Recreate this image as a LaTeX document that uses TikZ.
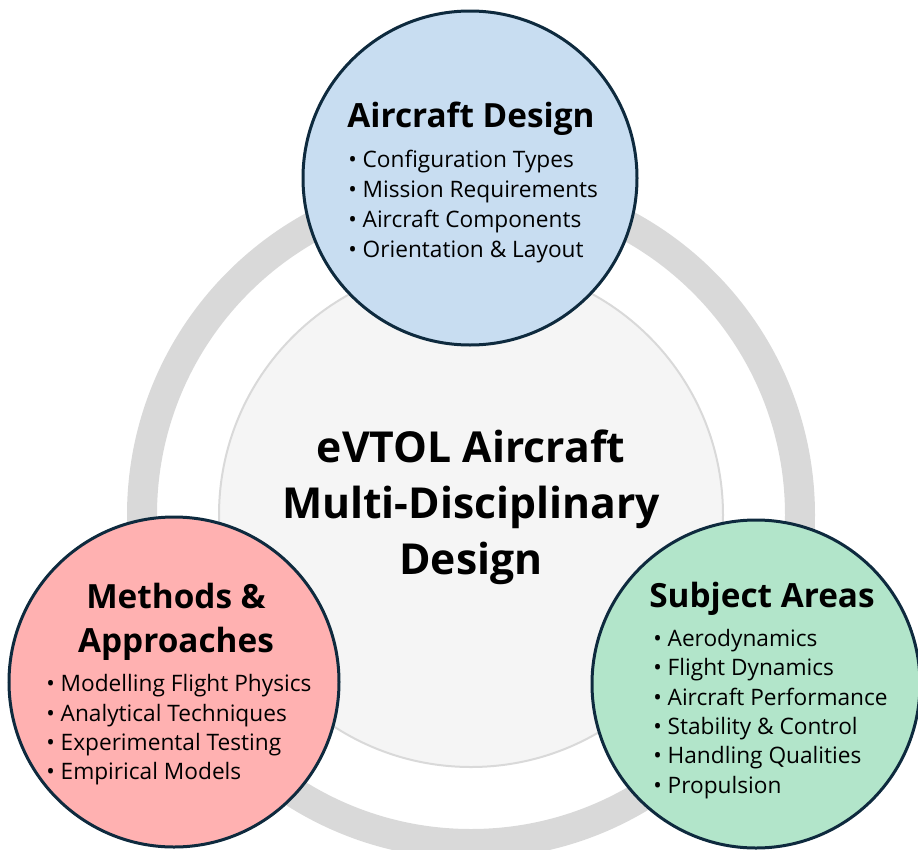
\documentclass[tikz,border=0pt]{standalone}
\usepackage{fontspec}
\setmainfont{Open Sans}
\definecolor{ringgray}{HTML}{D9D9D9}
\definecolor{hubfill}{HTML}{F5F5F5}
\definecolor{hubline}{HTML}{D9D9D9}
\definecolor{edge}{HTML}{0E2A3E}
\definecolor{bluefill}{HTML}{C8DDF1}
\definecolor{pinkfill}{HTML}{FFB1B1}
\definecolor{mintfill}{HTML}{B2E5CA}
\begin{document}
\begin{tikzpicture}[x=0.75pt,y=-0.75pt,
  topic/.style={circle,draw=edge,line width=2.25pt,minimum size=330*0.75pt,inner sep=0pt},
  heading/.style={font=\fontsize{25}{33}\selectfont\bfseries,align=center,inner sep=0pt},
  items/.style={font=\fontsize{17}{22}\selectfont,align=left,anchor=west,inner sep=0pt},
  hubtext/.style={font=\fontsize{32}{42}\selectfont\bfseries,align=center,inner sep=0pt}]
\useasboundingbox (0,0) rectangle (918,850);

% outer grey ring and central hub
\draw[ringgray,line width=22.5pt] (471,515) circle[radius=329];
\node[circle,fill=hubfill,draw=hubline,line width=1.5pt,minimum size=504*0.75pt,inner sep=0pt] (hub) at (471,515) {};
\node[hubtext] (hubtitle) at (471,507) {eVTOL Aircraft\\Multi-Disciplinary\\Design};

% the three topic circles
\node[topic,fill=bluefill,minimum size=334*0.75pt] (design) at (470,178) {};
\node[topic,fill=pinkfill] (methods) at (174,682) {};
\node[topic,fill=mintfill,minimum size=328*0.75pt] (subject) at (756,684) {};

% aircraft design
\node[heading] (designtitle) at (471,119) {Aircraft Design};
\node[items,font=\fontsize{17}{22.7}\selectfont] (designlist) at (348,206.5) {• Configuration Types\\• Mission Requirements\\• Aircraft Components\\• Orientation \& Layout};

% methods and approaches
\node[heading] (methodstitle) at (176,622) {Methods \&\\Approaches};
\node[items] (methodslist) at (46,730) {• Modelling Flight Physics\\• Analytical Techniques\\• Experimental Testing\\• Empirical Models};

% subject areas
\node[heading] (subjecttitle) at (762,599) {Subject Areas};
\node[items] (subjectlist) at (653,714) {• Aerodynamics\\• Flight Dynamics\\• Aircraft Performance\\• Stability \& Control\\• Handling Qualities\\• Propulsion};
\end{tikzpicture}
\end{document}
